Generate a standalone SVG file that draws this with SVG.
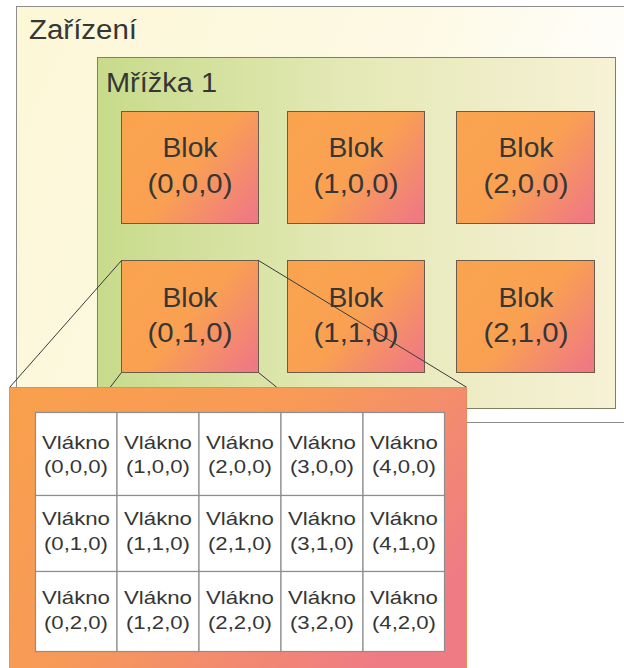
<svg xmlns="http://www.w3.org/2000/svg" width="624" height="668" viewBox="0 0 624 668">
  <style>
    .lbl { font-family: "Liberation Sans", Arial, sans-serif; fill: #363636; }
    .big { font-size: 27px; }
    .mid { font-size: 28px; text-anchor: middle; }
    .sm { font-size: 19px; text-anchor: middle; }
    .blk { fill: url(#gBlock); stroke: #6a5b4a; stroke-width: 1; }
    .cell { fill: #ffffff; stroke: #8e8e8e; stroke-width: 1.2; }
    .conn { stroke: #3a3a3a; stroke-width: 1; fill: none; }
  </style>
  <defs>
    <linearGradient id="gDevice" x1="0" y1="0" x2="1" y2="0.3">
      <stop offset="0" stop-color="#fcf7d6"/>
      <stop offset="0.6" stop-color="#fdf9e4"/>
      <stop offset="1" stop-color="#ffffff"/>
    </linearGradient>
    <linearGradient id="gGrid" x1="0" y1="0" x2="1" y2="0">
      <stop offset="0" stop-color="#c7db8b"/>
      <stop offset="0.5" stop-color="#e5e9b7"/>
      <stop offset="1" stop-color="#f7f1d6"/>
    </linearGradient>
    <linearGradient id="gBlock" x1="0" y1="0.15" x2="1" y2="0.85">
      <stop offset="0" stop-color="#faa34f"/>
      <stop offset="0.5" stop-color="#f9a152"/>
      <stop offset="1" stop-color="#f07a82"/>
    </linearGradient>
    <linearGradient id="gPanel" x1="0" y1="0" x2="1" y2="0.6">
      <stop offset="0" stop-color="#f9a04c"/>
      <stop offset="0.5" stop-color="#f79a58"/>
      <stop offset="1" stop-color="#ef7c84"/>
    </linearGradient>
  </defs>

  <rect width="624" height="668" fill="#ffffff"/>

  <g id="device">
    <rect x="16.5" y="6.5" width="620" height="416" fill="url(#gDevice)" stroke="#8c8c8c" stroke-width="1"/>
    <text class="lbl big" x="29" y="39" textLength="108" lengthAdjust="spacingAndGlyphs">Zařízení</text>
  </g>

  <g id="grid">
    <rect x="97.5" y="57.5" width="518" height="351" fill="url(#gGrid)" stroke="#7f7f66" stroke-width="1"/>
    <text class="lbl big" x="106" y="92" textLength="111" lengthAdjust="spacingAndGlyphs">Mřížka 1</text>
  </g>

  <g id="block-000">
    <rect class="blk" x="121.5" y="111.5" width="137" height="112"/>
    <text class="lbl mid" x="190" y="157" textLength="55" lengthAdjust="spacingAndGlyphs">Blok</text>
    <text class="lbl mid" x="190" y="193" textLength="85" lengthAdjust="spacingAndGlyphs">(0,0,0)</text>
  </g>
  <g id="block-100">
    <rect class="blk" x="287.5" y="111.5" width="137" height="112"/>
    <text class="lbl mid" x="356" y="157" textLength="55" lengthAdjust="spacingAndGlyphs">Blok</text>
    <text class="lbl mid" x="356" y="193" textLength="85" lengthAdjust="spacingAndGlyphs">(1,0,0)</text>
  </g>
  <g id="block-200">
    <rect class="blk" x="456.5" y="111.5" width="138" height="112"/>
    <text class="lbl mid" x="526" y="157" textLength="55" lengthAdjust="spacingAndGlyphs">Blok</text>
    <text class="lbl mid" x="526" y="193" textLength="85" lengthAdjust="spacingAndGlyphs">(2,0,0)</text>
  </g>
  <g id="block-010">
    <rect class="blk" x="121.5" y="260.5" width="137" height="112"/>
    <text class="lbl mid" x="190" y="307" textLength="55" lengthAdjust="spacingAndGlyphs">Blok</text>
    <text class="lbl mid" x="190" y="342" textLength="85" lengthAdjust="spacingAndGlyphs">(0,1,0)</text>
  </g>
  <g id="block-110">
    <rect class="blk" x="287.5" y="260.5" width="137" height="112"/>
    <text class="lbl mid" x="356" y="307" textLength="55" lengthAdjust="spacingAndGlyphs">Blok</text>
    <text class="lbl mid" x="356" y="342" textLength="85" lengthAdjust="spacingAndGlyphs">(1,1,0)</text>
  </g>
  <g id="block-210">
    <rect class="blk" x="456.5" y="260.5" width="138" height="112"/>
    <text class="lbl mid" x="526" y="307" textLength="55" lengthAdjust="spacingAndGlyphs">Blok</text>
    <text class="lbl mid" x="526" y="342" textLength="85" lengthAdjust="spacingAndGlyphs">(2,1,0)</text>
  </g>

  <!-- projection lines from block (0,1,0) to its enlarged view -->
  <g id="connectors">
    <line class="conn" x1="121.5" y1="260.5" x2="9.5" y2="387.5"/>
    <line class="conn" x1="258.5" y1="260.5" x2="467" y2="387.5"/>
    <line class="conn" x1="121.5" y1="372.5" x2="110" y2="387.5"/>
    <line class="conn" x1="258.5" y1="372.5" x2="277" y2="387.5"/>
  </g>

  <!-- enlarged block with its threads -->
  <g id="block-detail">
    <rect x="9.5" y="387.5" width="457" height="290" fill="url(#gPanel)" stroke="#e88a5a" stroke-width="1"/>
  </g>

  <g id="threads">
    <rect class="cell" x="35.5" y="412.5" width="81.5" height="83"/>
    <rect class="cell" x="117" y="412.5" width="82" height="83"/>
    <rect class="cell" x="199" y="412.5" width="82" height="83"/>
    <rect class="cell" x="281" y="412.5" width="82" height="83"/>
    <rect class="cell" x="363" y="412.5" width="81.5" height="83"/>
    <rect class="cell" x="35.5" y="495.5" width="81.5" height="76"/>
    <rect class="cell" x="117" y="495.5" width="82" height="76"/>
    <rect class="cell" x="199" y="495.5" width="82" height="76"/>
    <rect class="cell" x="281" y="495.5" width="82" height="76"/>
    <rect class="cell" x="363" y="495.5" width="81.5" height="76"/>
    <rect class="cell" x="35.5" y="571.5" width="81.5" height="80"/>
    <rect class="cell" x="117" y="571.5" width="82" height="80"/>
    <rect class="cell" x="199" y="571.5" width="82" height="80"/>
    <rect class="cell" x="281" y="571.5" width="82" height="80"/>
    <rect class="cell" x="363" y="571.5" width="81.5" height="80"/>

    <g id="thread-row-0">
      <text class="lbl sm" x="76" y="449" textLength="68" lengthAdjust="spacingAndGlyphs">Vlákno</text>
      <text class="lbl sm" x="76" y="473" textLength="64" lengthAdjust="spacingAndGlyphs">(0,0,0)</text>
      <text class="lbl sm" x="158" y="449" textLength="68" lengthAdjust="spacingAndGlyphs">Vlákno</text>
      <text class="lbl sm" x="158" y="473" textLength="64" lengthAdjust="spacingAndGlyphs">(1,0,0)</text>
      <text class="lbl sm" x="240" y="449" textLength="68" lengthAdjust="spacingAndGlyphs">Vlákno</text>
      <text class="lbl sm" x="240" y="473" textLength="64" lengthAdjust="spacingAndGlyphs">(2,0,0)</text>
      <text class="lbl sm" x="322" y="449" textLength="68" lengthAdjust="spacingAndGlyphs">Vlákno</text>
      <text class="lbl sm" x="322" y="473" textLength="64" lengthAdjust="spacingAndGlyphs">(3,0,0)</text>
      <text class="lbl sm" x="404" y="449" textLength="68" lengthAdjust="spacingAndGlyphs">Vlákno</text>
      <text class="lbl sm" x="404" y="473" textLength="64" lengthAdjust="spacingAndGlyphs">(4,0,0)</text>
    </g>
    <g id="thread-row-1">
      <text class="lbl sm" x="76" y="525" textLength="68" lengthAdjust="spacingAndGlyphs">Vlákno</text>
      <text class="lbl sm" x="76" y="550" textLength="64" lengthAdjust="spacingAndGlyphs">(0,1,0)</text>
      <text class="lbl sm" x="158" y="525" textLength="68" lengthAdjust="spacingAndGlyphs">Vlákno</text>
      <text class="lbl sm" x="158" y="550" textLength="64" lengthAdjust="spacingAndGlyphs">(1,1,0)</text>
      <text class="lbl sm" x="240" y="525" textLength="68" lengthAdjust="spacingAndGlyphs">Vlákno</text>
      <text class="lbl sm" x="240" y="550" textLength="64" lengthAdjust="spacingAndGlyphs">(2,1,0)</text>
      <text class="lbl sm" x="322" y="525" textLength="68" lengthAdjust="spacingAndGlyphs">Vlákno</text>
      <text class="lbl sm" x="322" y="550" textLength="64" lengthAdjust="spacingAndGlyphs">(3,1,0)</text>
      <text class="lbl sm" x="404" y="525" textLength="68" lengthAdjust="spacingAndGlyphs">Vlákno</text>
      <text class="lbl sm" x="404" y="550" textLength="64" lengthAdjust="spacingAndGlyphs">(4,1,0)</text>
    </g>
    <g id="thread-row-2">
      <text class="lbl sm" x="76" y="604" textLength="68" lengthAdjust="spacingAndGlyphs">Vlákno</text>
      <text class="lbl sm" x="76" y="629" textLength="64" lengthAdjust="spacingAndGlyphs">(0,2,0)</text>
      <text class="lbl sm" x="158" y="604" textLength="68" lengthAdjust="spacingAndGlyphs">Vlákno</text>
      <text class="lbl sm" x="158" y="629" textLength="64" lengthAdjust="spacingAndGlyphs">(1,2,0)</text>
      <text class="lbl sm" x="240" y="604" textLength="68" lengthAdjust="spacingAndGlyphs">Vlákno</text>
      <text class="lbl sm" x="240" y="629" textLength="64" lengthAdjust="spacingAndGlyphs">(2,2,0)</text>
      <text class="lbl sm" x="322" y="604" textLength="68" lengthAdjust="spacingAndGlyphs">Vlákno</text>
      <text class="lbl sm" x="322" y="629" textLength="64" lengthAdjust="spacingAndGlyphs">(3,2,0)</text>
      <text class="lbl sm" x="404" y="604" textLength="68" lengthAdjust="spacingAndGlyphs">Vlákno</text>
      <text class="lbl sm" x="404" y="629" textLength="64" lengthAdjust="spacingAndGlyphs">(4,2,0)</text>
    </g>
  </g>
</svg>
